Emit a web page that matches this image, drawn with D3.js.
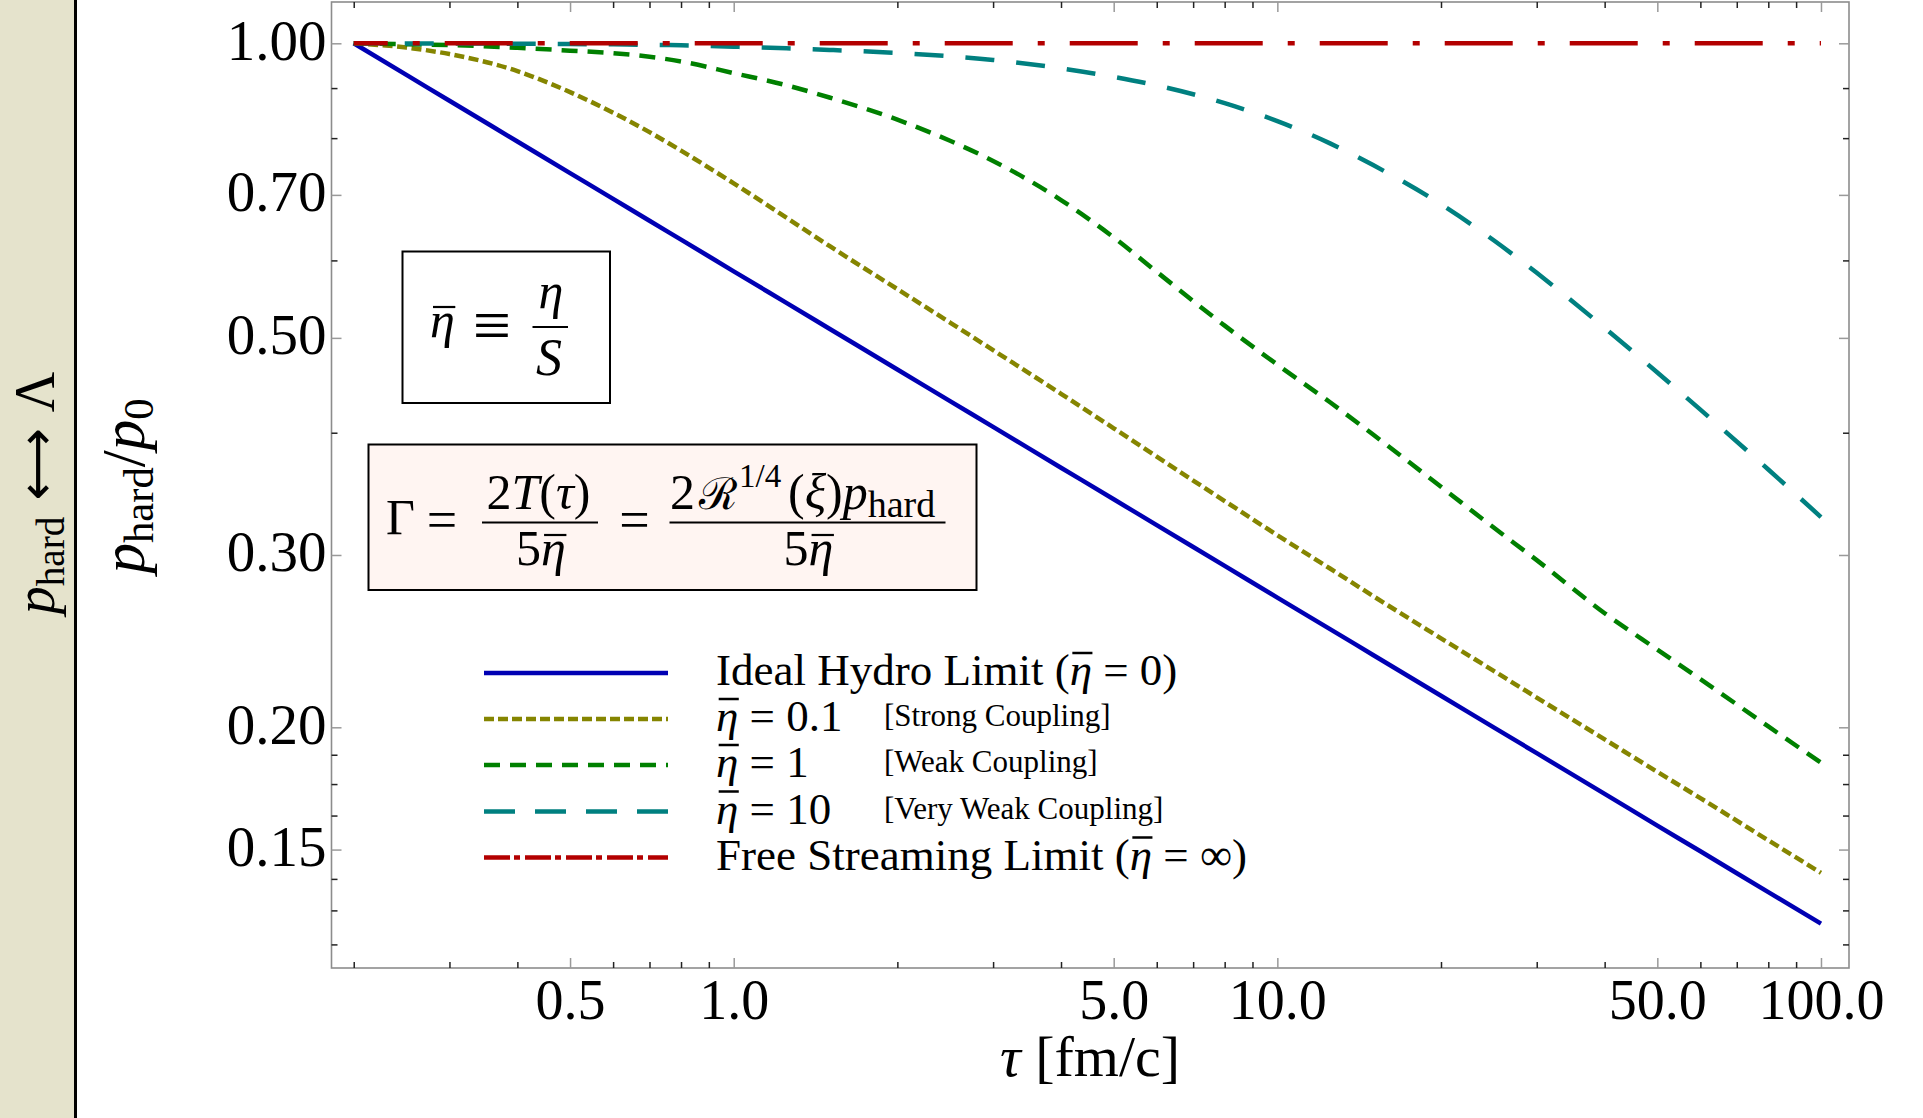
<!DOCTYPE html>
<html>
<head>
<meta charset="utf-8">
<script src="https://cdn.jsdelivr.net/npm/d3@7"></script>
<style>
  body { margin: 0; background: #fff; }
  svg { display: block; }
  text { font-family: "Liberation Serif", "Times New Roman", serif; fill: #000; }
</style>
</head>
<body>
<svg id="chart" width="1923" height="1118"></svg>
<script>
// values (tau in fm/c, p_hard/p0)
const TAU = [0.2, 0.25, 0.3, 0.4, 0.5, 0.6, 0.7, 0.8, 1, 1.25, 1.5, 2, 2.5, 3, 4, 5, 6, 8, 10, 12.5, 15, 20, 25, 30, 40, 50, 60, 80, 100];
const IDEAL = [1, 0.9283, 0.8736, 0.7937, 0.7368, 0.6934, 0.6586, 0.6300, 0.5848, 0.5429, 0.5109, 0.4642, 0.4309, 0.4055, 0.3684, 0.3420, 0.3218, 0.2924, 0.2714, 0.2520, 0.2371, 0.2154, 0.2000, 0.1882, 0.1710, 0.1587, 0.1494, 0.1357, 0.1260];
const ETA_01 = [1, 0.9900, 0.9750, 0.9366, 0.8915, 0.8494, 0.8114, 0.7768, 0.7193, 0.6634, 0.6207, 0.5608, 0.5184, 0.4858, 0.4384, 0.4042, 0.3781, 0.3406, 0.3143, 0.2906, 0.2724, 0.2466, 0.2284, 0.2145, 0.1944, 0.1801, 0.1693, 0.1533, 0.1420];
const ETA_1 = [1, 0.9979, 0.9959, 0.9895, 0.9829, 0.9770, 0.9688, 0.9582, 0.9322, 0.9061, 0.8803, 0.8356, 0.7950, 0.7583, 0.6915, 0.6334, 0.5841, 0.5146, 0.4695, 0.4297, 0.3983, 0.3522, 0.3200, 0.2964, 0.2616, 0.2401, 0.2240, 0.2004, 0.1840];
const ETA_10 = [1, 0.9998, 0.9995, 0.9990, 0.9983, 0.9975, 0.9965, 0.9955, 0.9920, 0.9883, 0.9846, 0.9776, 0.9700, 0.9615, 0.9428, 0.9240, 0.9057, 0.8687, 0.8327, 0.7902, 0.7508, 0.6847, 0.6291, 0.5827, 0.5119, 0.4609, 0.4223, 0.3668, 0.3280];
const FREE = [1, 1, 1, 1, 1, 1, 1, 1, 1, 1, 1, 1, 1, 1, 1, 1, 1, 1, 1, 1, 1, 1, 1, 1, 1, 1, 1, 1, 1];

const X_MAJOR = [0.5, 1, 5, 10, 50, 100];
const X_LABELS = ['0.5', '1.0', '5.0', '10.0', '50.0', '100.0'];
const X_MINOR = [0.2, 0.3, 0.4, 0.6, 0.7, 0.8, 0.9, 2, 3, 4, 6, 7, 8, 9, 20, 30, 40, 60, 70, 80, 90];
const Y_MAJOR = [1, 0.7, 0.5, 0.3, 0.2, 0.15];
const Y_LABELS = ['1.00', '0.70', '0.50', '0.30', '0.20', '0.15'];
const Y_MINOR = [0.9, 0.8, 0.6, 0.4, 0.1875, 0.175, 0.1625, 0.14, 0.13, 0.12];

const LEGEND_ROWS = [
  [{ t: 'Ideal Hydro Limit (' }, { t: 'η', bar: true }, { t: ' = 0)' }],
  [{ t: 'η', bar: true }, { t: ' = 0.1' }],
  [{ t: 'η', bar: true }, { t: ' = 1' }],
  [{ t: 'η', bar: true }, { t: ' = 10' }],
  [{ t: 'Free Streaming Limit (' }, { t: 'η', bar: true }, { t: ' = ∞)' }]
];
const LEGEND_NOTES = ['', '[Strong Coupling]', '[Weak Coupling]', '[Very Weak Coupling]', ''];

const SERIES = [
  { values: IDEAL, color: '#0000b3', dash: null, legendDash: null },
  { values: ETA_01, color: '#858500', dash: '10,4.5', legendDash: '10,4' },
  { values: ETA_1, color: '#008000', dash: '16,10', legendDash: '16,10' },
  { values: ETA_10, color: '#008080', dash: '29,22', legendDash: '31,20' },
  { values: FREE, color: '#b30000', dash: '68,25,7,25', offset: 34, legendDash: '26,4,6,5' }
];

const W = 1923, H = 1118;
const box = { left: 331.5, right: 1849, top: 2, bottom: 968 };
const svg = d3.select('#chart');

const x = d3.scaleLog().domain([0.18203, 112.6]).range([box.left, box.right]);
const y = d3.scaleLog().domain([1.10206, 0.11352]).range([box.top, box.bottom]);

// bar over one character of a text element
function overbar(textSel, charIndex, baseY, lift, width) {
  const r = textSel.node().getExtentOfChar(charIndex);
  svg.append('line').attr('x1', r.x + r.width * 0.12).attr('x2', r.x + r.width * 1.02)
    .attr('y1', baseY - lift).attr('y2', baseY - lift)
    .attr('stroke', '#000').attr('stroke-width', width);
}

// beige side strip
svg.append('rect').attr('x', 0).attr('y', 0).attr('width', 75).attr('height', H).attr('fill', '#e5e3cc');
svg.append('line').attr('x1', 75.5).attr('x2', 75.5).attr('y1', 0).attr('y2', H)
  .attr('stroke', '#000').attr('stroke-width', 3);

const side = svg.append('text').attr('transform', 'translate(54,493) rotate(-90)')
  .attr('text-anchor', 'middle').attr('font-size', 56);
side.append('tspan').attr('font-style', 'italic').text('p');
side.append('tspan').attr('font-size', '0.7em').attr('dy', 10).text('hard');
side.append('tspan').attr('dy', -10).attr('dx', 16).attr('font-size', '0.9em').attr('font-family', 'DejaVu Sans').text('⟷');
side.append('tspan').attr('dx', 16).text('Λ');

// frame
svg.append('rect').attr('x', box.left).attr('y', box.top)
  .attr('width', box.right - box.left).attr('height', box.bottom - box.top)
  .attr('fill', 'none').attr('stroke', '#8c8c8c').attr('stroke-width', 1.6);

function ticks(axis, tr, major, size) {
  const g = svg.append('g').attr('transform', tr).call(axis);
  g.select('.domain').remove();
  g.attr('font-family', null).attr('font-size', size || 56);
  g.selectAll('line').attr('stroke', major ? '#9a9a9a' : '#222').attr('stroke-width', 1.5);
  return g;
}

ticks(d3.axisBottom(x).tickValues(X_MAJOR).tickFormat((d, i) => X_LABELS[i])
  .tickSizeInner(-10).tickSizeOuter(0).tickPadding(11), `translate(0,${box.bottom})`, true);
ticks(d3.axisBottom(x).tickValues(X_MINOR).tickFormat('').tickSizeInner(-6).tickSizeOuter(0),
  `translate(0,${box.bottom})`, false);
ticks(d3.axisTop(x).tickValues(X_MAJOR).tickFormat('').tickSizeInner(-10).tickSizeOuter(0),
  `translate(0,${box.top})`, true);
ticks(d3.axisTop(x).tickValues(X_MINOR).tickFormat('').tickSizeInner(-6).tickSizeOuter(0),
  `translate(0,${box.top})`, false);
const gy = ticks(d3.axisLeft(y).tickValues(Y_MAJOR).tickFormat((d, i) => Y_LABELS[i])
  .tickSizeInner(-10).tickSizeOuter(0).tickPadding(5), `translate(${box.left},0)`, true, 57);
gy.selectAll('text').attr('dy', '0.28em');
ticks(d3.axisLeft(y).tickValues(Y_MINOR).tickFormat('').tickSizeInner(-6).tickSizeOuter(0),
  `translate(${box.left},0)`, false);
ticks(d3.axisRight(y).tickValues(Y_MAJOR).tickFormat('').tickSizeInner(-10).tickSizeOuter(0),
  `translate(${box.right},0)`, true);
ticks(d3.axisRight(y).tickValues(Y_MINOR).tickFormat('').tickSizeInner(-6).tickSizeOuter(0),
  `translate(${box.right},0)`, false);

// axis titles
const xt = svg.append('text').attr('x', 1090).attr('y', 1076).attr('text-anchor', 'middle').attr('font-size', 58);
xt.append('tspan').attr('font-style', 'italic').text('τ');
xt.append('tspan').text(' [fm/c]');

const yt = svg.append('text').attr('transform', 'translate(144,486) rotate(-90)')
  .attr('text-anchor', 'middle').attr('font-size', 61);
yt.append('tspan').attr('font-style', 'italic').text('p');
yt.append('tspan').attr('font-size', '0.7em').attr('dy', 9).text('hard');
yt.append('tspan').attr('dy', -9).text('/');
yt.append('tspan').attr('font-style', 'italic').text('p');
yt.append('tspan').attr('font-size', '0.7em').attr('dy', 9).text('0');

// curves
const line = d3.line().x((d, i) => x(TAU[i])).y(d => y(d)).curve(d3.curveMonotoneX);
SERIES.forEach(s => {
  svg.append('path').attr('d', line(s.values))
    .attr('fill', 'none').attr('stroke', s.color).attr('stroke-width', 4.5)
    .attr('stroke-dasharray', s.dash).attr('stroke-dashoffset', s.offset || 0);
});

// formula box: eta-bar = eta / S
const EQ = 50;
svg.append('rect').attr('x', 402.5).attr('y', 251.5).attr('width', 207.5).attr('height', 151.5)
  .attr('fill', '#fff').attr('stroke', '#000').attr('stroke-width', 2);
const eb = svg.append('text').attr('x', 430).attr('y', 337).attr('font-size', EQ).attr('font-style', 'italic').text('η');
overbar(eb, 0, 337, 30, 2.2);
svg.append('text').attr('x', 492).attr('y', 348).attr('font-size', 68).attr('font-family', 'Liberation Serif')
  .attr('text-anchor', 'middle').text('≡');
svg.append('text').attr('x', 551).attr('y', 308).attr('font-size', EQ).attr('text-anchor', 'middle')
  .attr('font-style', 'italic').text('η');
svg.append('line').attr('x1', 532.5).attr('x2', 568).attr('y1', 327).attr('y2', 327).attr('stroke', '#000').attr('stroke-width', 2);
svg.append('text').attr('x', 549).attr('y', 375).attr('font-size', EQ + 2).attr('text-anchor', 'middle')
  .attr('font-style', 'italic').text('S');

// formula box: Gamma
svg.append('rect').attr('x', 368.5).attr('y', 444.5).attr('width', 608).attr('height', 145.5)
  .attr('fill', '#fff5f2').attr('stroke', '#000').attr('stroke-width', 2);
svg.append('text').attr('x', 386).attr('y', 534).attr('font-size', EQ).text('Γ');
svg.append('text').attr('x', 442).attr('y', 538).attr('font-size', EQ + 4).attr('text-anchor', 'middle').text('=');
svg.append('text').attr('x', 634.5).attr('y', 538).attr('font-size', EQ + 4).attr('text-anchor', 'middle').text('=');

const n1 = svg.append('text').attr('x', 538.5).attr('y', 509).attr('font-size', EQ).attr('text-anchor', 'middle');
n1.append('tspan').text('2');
n1.append('tspan').attr('font-style', 'italic').text('T');
n1.append('tspan').text('(');
n1.append('tspan').attr('font-style', 'italic').text('τ');
n1.append('tspan').text(')');
svg.append('line').attr('x1', 482).attr('x2', 598).attr('y1', 522.5).attr('y2', 522.5).attr('stroke', '#000').attr('stroke-width', 2);

svg.append('text').attr('x', 670).attr('y', 509).attr('font-size', EQ).text('2');
svg.append('text').attr('x', 699).attr('y', 509).attr('font-size', 44).attr('font-family', 'DejaVu Serif').text('ℛ');
svg.append('text').attr('x', 739).attr('y', 487).attr('font-size', 33).text('1/4');
const n2 = svg.append('text').attr('x', 788).attr('y', 509).attr('font-size', EQ);
n2.append('tspan').text('(');
n2.append('tspan').attr('font-style', 'italic').text('ξ');
n2.append('tspan').text(')');
n2.append('tspan').attr('font-style', 'italic').text('p');
n2.append('tspan').attr('font-size', 38).attr('dy', 8).text('hard');
svg.append('line').attr('x1', 669.5).attr('x2', 945.5).attr('y1', 522.5).attr('y2', 522.5).attr('stroke', '#000').attr('stroke-width', 2);

[541, 808.5].forEach(cx => {
  const d = svg.append('text').attr('x', cx).attr('y', 565).attr('font-size', EQ).attr('text-anchor', 'middle');
  d.append('tspan').text('5');
  d.append('tspan').attr('font-style', 'italic').text('η');
  overbar(d, 1, 565, 30, 2.2);
});

// legend
const LEG_Y = [673, 719, 765, 811.5, 857.5];
SERIES.forEach((s, i) => {
  svg.append('line').attr('x1', 484).attr('x2', 668).attr('y1', LEG_Y[i]).attr('y2', LEG_Y[i])
    .attr('stroke', s.color).attr('stroke-width', 4.5).attr('stroke-dasharray', s.legendDash);
  const base = LEG_Y[i] + 12;
  const t = svg.append('text').attr('x', 716).attr('y', base).attr('font-size', 45);
  let idx = 0, barIdx = -1;
  LEGEND_ROWS[i].forEach(p => {
    const sp = t.append('tspan').text(p.t);
    if (p.bar) { sp.attr('font-style', 'italic'); barIdx = idx; }
    idx += p.t.length;
  });
  if (barIdx >= 0) overbar(t, barIdx, base, 32, 2.5);
  if (LEGEND_NOTES[i]) {
    svg.append('text').attr('x', 884).attr('y', LEG_Y[i] + 7).attr('font-size', 31).text(LEGEND_NOTES[i]);
  }
});
</script>
</body>
</html>
